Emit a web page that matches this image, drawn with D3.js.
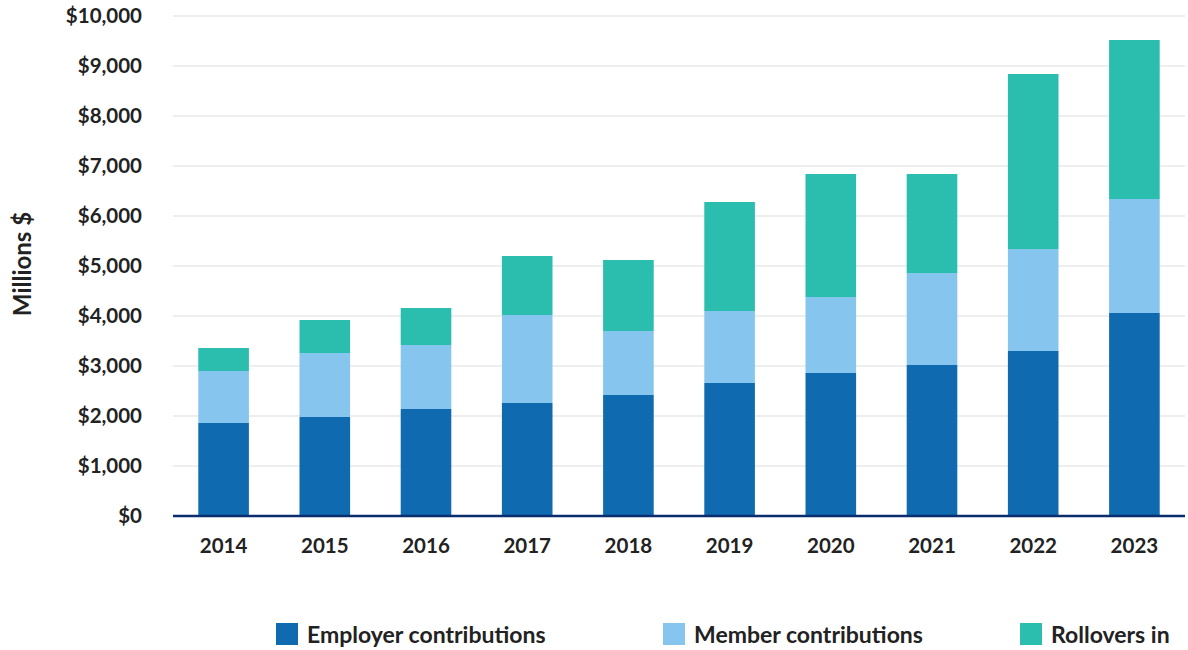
<!DOCTYPE html>
<html>
<head>
<meta charset="utf-8">
<script src="https://cdn.jsdelivr.net/npm/d3@7"></script>
<style>
  body { margin: 0; background: #fff; }
  text { font-family: Lato, "Open Sans", sans-serif; fill: #222; }
</style>
</head>
<body>
<div id="wrapper"></div>
<script>
const years = ["2014", "2015", "2016", "2017", "2018", "2019", "2020", "2021", "2022", "2023"];
const employer = [1860, 1980, 2140, 2260, 2420, 2660, 2860, 3020, 3300, 4060];
const member = [1040, 1280, 1280, 1760, 1280, 1440, 1520, 1840, 2040, 2280];
const rollovers = [460, 660, 740, 1180, 1420, 2180, 2460, 1980, 3500, 3180];
const seriesNames = ["Employer contributions", "Member contributions", "Rollovers in"];
const yTicks = [0, 1000, 2000, 3000, 4000, 5000, 6000, 7000, 8000, 9000, 10000];

const colors = ["#0f6ab0", "#85c5ee", "#2bbdad"];

const dimension = {
    width: 1188,
    height: 650,
    margin: { top: 16, left: 173, bottom: 134, right: 3 }
};
dimension.boundedWidth = dimension.width - dimension.margin.left - dimension.margin.right;
dimension.boundedHeight = dimension.height - dimension.margin.top - dimension.margin.bottom;

const table = years.map((y, i) => ({
    year: y,
    employer: employer[i],
    member: member[i],
    rollovers: rollovers[i]
}));
const keys = ["employer", "member", "rollovers"];
const stacked = d3.stack().keys(keys)(table);

const svg = d3.select("#wrapper").append("svg")
    .attr("width", dimension.width)
    .attr("height", dimension.height);

const bounded = svg.append("g")
    .attr("transform", `translate(${dimension.margin.left},${dimension.margin.top})`);

const xScaler = d3.scaleBand()
    .domain(years)
    .range([0, dimension.boundedWidth])
    .paddingInner(0.5)
    .paddingOuter(0.25);

const yScaler = d3.scaleLinear()
    .domain([0, 10000])
    .range([dimension.boundedHeight, 0]);

// gridlines
bounded.append("g")
    .selectAll("line")
    .data(yTicks.slice(1))
    .join("line")
    .attr("x1", 0)
    .attr("x2", dimension.boundedWidth)
    .attr("y1", d => yScaler(d))
    .attr("y2", d => yScaler(d))
    .attr("stroke", "#eeeeee")
    .attr("stroke-width", 2);

// bars
bounded.append("g")
    .selectAll("g")
    .data(stacked)
    .join("g")
    .attr("fill", (d, i) => colors[i])
    .selectAll("rect")
    .data(d => d)
    .join("rect")
    .attr("x", d => xScaler(d.data.year))
    .attr("width", xScaler.bandwidth())
    .attr("y", d => yScaler(d[1]))
    .attr("height", d => yScaler(d[0]) - yScaler(d[1]));

// y axis
const yAxis = d3.axisLeft(yScaler)
    .tickValues(yTicks)
    .tickSize(0)
    .tickPadding(31)
    .tickFormat(d => "$" + d3.format(",")(d));

bounded.append("g")
    .call(yAxis)
    .call(g => g.select(".domain").remove())
    .selectAll("text")
    .style("font-size", "20.5px")
    .style("font-weight", 700)
    .attr("fill", "#222");

// x axis
const xAxis = d3.axisBottom(xScaler)
    .tickSize(0)
    .tickPadding(22);

bounded.append("g")
    .attr("transform", `translate(0,${dimension.boundedHeight})`)
    .call(xAxis)
    .call(g => g.select(".domain").remove())
    .selectAll("text")
    .style("font-size", "20.5px")
    .style("font-weight", 700)
    .attr("fill", "#222");

bounded.append("line")
    .attr("x1", 0)
    .attr("x2", dimension.boundedWidth)
    .attr("y1", dimension.boundedHeight)
    .attr("y2", dimension.boundedHeight)
    .attr("stroke", "#0a2d6e")
    .attr("stroke-width", 2.5);

// y axis title
svg.append("text")
    .attr("text-anchor", "middle")
    .attr("transform", "translate(31,264)rotate(-90)")
    .style("font-size", "24px")
    .style("font-weight", 700)
    .text("Millions $");

// legend
const legendX = [276, 663, 1020];
const legend = svg.append("g")
    .selectAll("g")
    .data(seriesNames)
    .join("g")
    .attr("transform", (d, i) => `translate(${legendX[i]},623)`);

legend.append("rect")
    .attr("width", 22)
    .attr("height", 22)
    .attr("fill", (d, i) => colors[i]);

legend.append("text")
    .attr("x", 31)
    .attr("y", 20)
    .style("font-size", "23px")
    .style("font-weight", 700)
    .text(d => d);
</script>
</body>
</html>
